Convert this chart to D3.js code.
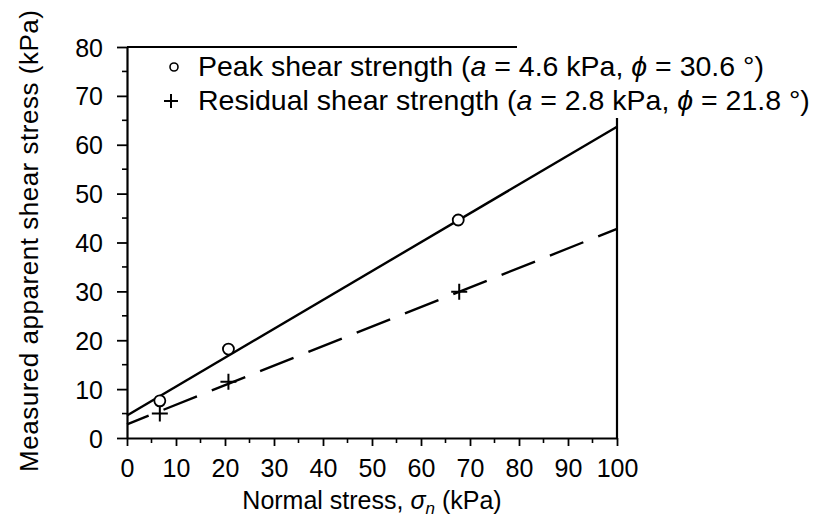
<!DOCTYPE html>
<html>
<head>
<meta charset="utf-8">
<script src="https://cdn.jsdelivr.net/npm/d3@7"></script>
<style>
  body { margin: 0; background: #fff; }
  svg { font-family: "Liberation Sans", Arial, sans-serif; }
</style>
</head>
<body>
<svg id="chart" width="816" height="525"></svg>
<script>
// measured points (normal stress, shear stress), kPa
const peakPoints = [[6.7, 7.6], [20.7, 18.2], [67.6, 44.6]];
const residualPoints = [[6.7, 5.0], [20.7, 11.5], [67.8, 29.9]];

// fitted envelopes, end points
const peakFit = [[0, 4.6], [100, 63.7]];
const residualFit = [[0, 2.8], [100, 42.8]];

const xTicks = [0, 10, 20, 30, 40, 50, 60, 70, 80, 90, 100];
const yTicks = [0, 10, 20, 30, 40, 50, 60, 70, 80];
const xMinor = [5, 15, 25, 35, 45, 55, 65, 75, 85, 95];
const yMinor = [5, 15, 25, 35, 45, 55, 65, 75];

const svg = d3.select("#chart");

const x = d3.scaleLinear().domain([0, 100]).range([127, 617]);
const y = d3.scaleLinear().domain([0, 80]).range([438, 47]);

const tickFont = 25;
const legendFont = 28.5;
const titleFont = 25;

// x axis
const xAxis = svg.append("g")
    .attr("transform", `translate(0,${y(0)})`)
    .call(d3.axisBottom(x).tickValues(xTicks).tickSize(8).tickSizeOuter(0).tickPadding(13));
svg.append("g")
    .attr("transform", `translate(0,${y(0)})`)
    .selectAll("line")
    .data(xMinor)
    .enter()
    .append("line")
    .attr("x1", d => x(d)).attr("x2", d => x(d))
    .attr("y1", 0).attr("y2", 5)
    .attr("stroke", "#000").attr("stroke-width", 1.6);

// y axis
const yAxis = svg.append("g")
    .attr("transform", `translate(${x(0)},0)`)
    .call(d3.axisLeft(y).tickValues(yTicks).tickSize(10).tickSizeOuter(0).tickPadding(14));
svg.append("g")
    .attr("transform", `translate(${x(0)},0)`)
    .selectAll("line")
    .data(yMinor)
    .enter()
    .append("line")
    .attr("x1", -5).attr("x2", 0)
    .attr("y1", d => y(d)).attr("y2", d => y(d))
    .attr("stroke", "#000").attr("stroke-width", 1.6);

[xAxis, yAxis].forEach(g => {
    g.select(".domain").attr("stroke-width", 2.2);
    g.selectAll(".tick line").attr("stroke-width", 1.8);
    g.selectAll(".tick text")
        .attr("font-size", tickFont)
        .attr("font-family", "Liberation Sans, Arial, sans-serif")
        .attr("fill", "#000");
});
yAxis.selectAll(".tick text").attr("dy", "0.36em");

// partial frame (the legend sits over the top right corner)
svg.append("line")
    .attr("x1", x(0)).attr("x2", 517)
    .attr("y1", y(80)).attr("y2", y(80))
    .attr("stroke", "#000").attr("stroke-width", 2.2);
svg.append("line")
    .attr("x1", x(100)).attr("x2", x(100))
    .attr("y1", 118).attr("y2", y(0))
    .attr("stroke", "#000").attr("stroke-width", 2.2);

// fitted lines
const line = d3.line().x(d => x(d[0])).y(d => y(d[1]));

svg.append("path")
    .datum(peakFit)
    .attr("d", line)
    .attr("fill", "none")
    .attr("stroke", "#000")
    .attr("stroke-width", 2.4);

svg.append("path")
    .datum(residualFit)
    .attr("d", line)
    .attr("fill", "none")
    .attr("stroke", "#000")
    .attr("stroke-width", 2.4)
    .attr("stroke-dasharray", "36,16")
    .attr("stroke-dashoffset", 12.7);

// markers
svg.append("g")
    .selectAll("circle")
    .data(peakPoints)
    .enter()
    .append("circle")
    .attr("cx", d => x(d[0]))
    .attr("cy", d => y(d[1]))
    .attr("r", 5.5)
    .attr("fill", "#fff")
    .attr("stroke", "#000")
    .attr("stroke-width", 1.8);

const drawPlus = (g, cx, cy, half) => {
    g.append("path")
        .attr("d", `M${cx - half},${cy}H${cx + half}M${cx},${cy - half}V${cy + half}`)
        .attr("stroke", "#000")
        .attr("stroke-width", 2)
        .attr("fill", "none");
};
const plusGroup = svg.append("g");
residualPoints.forEach(d => drawPlus(plusGroup, x(d[0]), y(d[1]), 8));

// legend
const legend = svg.append("g").attr("font-size", legendFont);

legend.append("circle")
    .attr("cx", 174).attr("cy", 67).attr("r", 4)
    .attr("fill", "#fff").attr("stroke", "#000").attr("stroke-width", 1.6);
drawPlus(legend, 171, 101, 7);

const legendRows = [
    { y: 76, label: "Peak shear strength (", a: "4.6", phi: "30.6" },
    { y: 110, label: "Residual shear strength (", a: "2.8", phi: "21.8" }
];

legendRows.forEach(row => {
    const t = legend.append("text").attr("x", 198).attr("y", row.y).attr("fill", "#000");
    t.append("tspan").text(row.label);
    t.append("tspan").attr("font-style", "italic").text("a");
    t.append("tspan").text(` = ${row.a} kPa, `);
    t.append("tspan").attr("font-style", "italic").text("\u03d5");
    t.append("tspan").text(` = ${row.phi} \u00b0)`);
});

// axis titles
const xTitle = svg.append("text")
    .attr("x", (x(0) + x(100)) / 2)
    .attr("y", 509)
    .attr("text-anchor", "middle")
    .attr("font-size", titleFont)
    .attr("fill", "#000");
xTitle.append("tspan").text("Normal stress, ");
xTitle.append("tspan").attr("font-style", "italic").text("\u03c3");
xTitle.append("tspan").attr("font-style", "italic").attr("font-size", 17).attr("dy", 5).text("n");
xTitle.append("tspan").attr("dy", -5).text(" (kPa)");

svg.append("text")
    .attr("transform", "translate(38,241) rotate(-90)")
    .attr("text-anchor", "middle")
    .attr("font-size", 26)
    .attr("textLength", 462)
    .attr("lengthAdjust", "spacing")
    .attr("fill", "#000")
    .text("Measured apparent shear stress (kPa)");
</script>
</body>
</html>
